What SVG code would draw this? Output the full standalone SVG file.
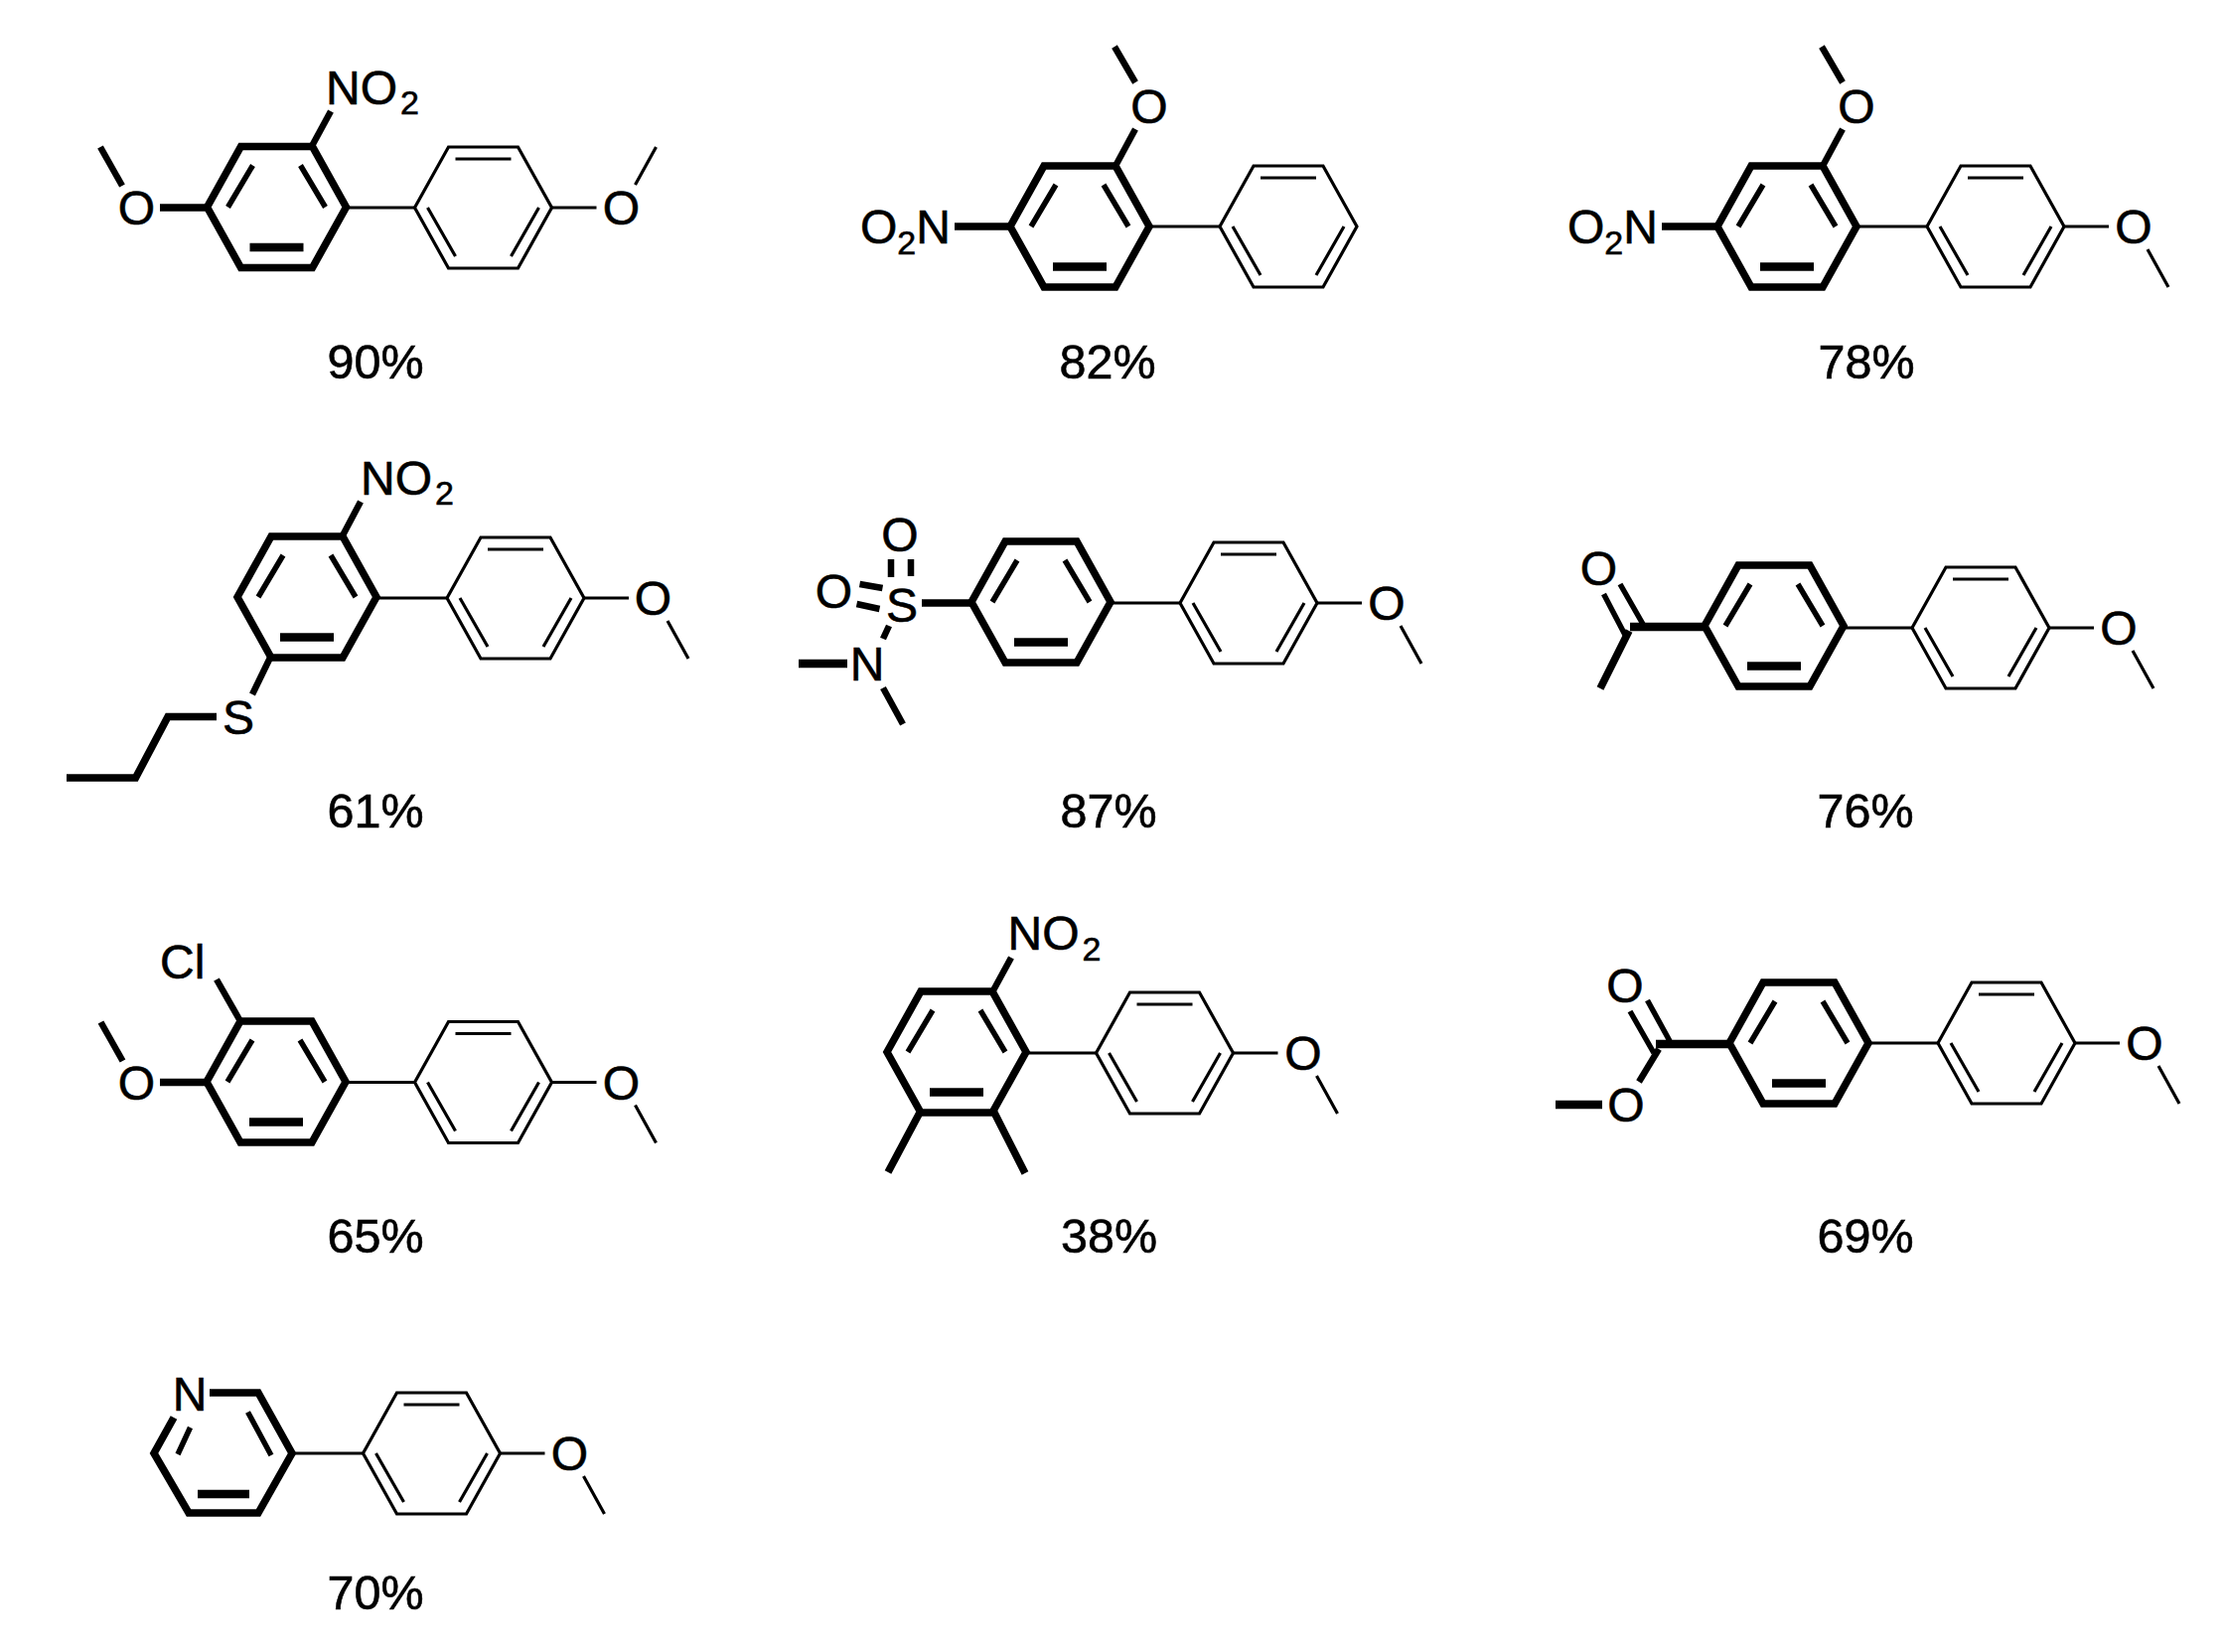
<svg xmlns="http://www.w3.org/2000/svg" xmlns:xlink="http://www.w3.org/1999/xlink" width="2242" height="1663" viewBox="0 0 2242 1663">
<style>
text{font-family:"Liberation Sans",Arial,sans-serif;font-size:48px;fill:#000;stroke:#000;stroke-width:.6}
.m{text-anchor:middle}
.p{font-size:48.5px}
.s{font-size:34px}
path,line{fill:none;stroke:#000;stroke-linejoin:miter;stroke-linecap:butt}
.b{stroke-width:7.5}
.c{stroke-width:6.5}
.i{stroke-width:5.5}
.ib{stroke-width:8.5}
.t{stroke-width:3.2}
</style>
<defs>
<g id="thick-ring">
<path class="b" d="M-70,0L-36,-61H36L70,0L36,61H-36Z"/>
<path class="i" d="M-49,0L-24,-42M24,-42L49,0"/>
<path class="ib" d="M-27,40.5H27"/>
</g>
<g id="thin-ring">
<path class="t" d="M-69,0L-35,-61H35L69,0L35,61H-35Z"/>
<path class="t" d="M-28,-49H28M-56,0L-28,49M56,0L28,49"/>
</g>
<path id="ome-down" class="t" d="M69,0H114M153,23L174,61"/>
<path id="ome-up" class="t" d="M69,0H114M153,-23L174,-61"/>
</defs>

<g id="connectors">
<line class="t" x1="348" y1="209" x2="418" y2="209"/>
<line class="t" x1="1157" y1="228" x2="1228" y2="228"/>
<line class="t" x1="1869" y1="228" x2="1940" y2="228"/>
<line class="t" x1="379" y1="602" x2="450" y2="602"/>
<line class="t" x1="1118" y1="607" x2="1188" y2="607"/>
<line class="t" x1="1855" y1="632" x2="1925" y2="632"/>
<line class="t" x1="348" y1="1089.5" x2="418" y2="1089.5"/>
<line class="t" x1="1033" y1="1060" x2="1104" y2="1060"/>
<line class="t" x1="1881" y1="1050" x2="1951" y2="1050"/>
<line class="t" x1="294" y1="1463" x2="366" y2="1463"/>
</g>

<g id="mol-1">
<use xlink:href="#thick-ring" href="#thick-ring" x="278.5" y="208.5"/>
<use xlink:href="#thin-ring" href="#thin-ring" x="486.5" y="209"/>
<use xlink:href="#ome-up" href="#ome-up" x="486.5" y="209"/>
<path class="b" d="M209,209H161"/>
<path class="c" d="M123,187L101,148"/>
<path class="c" d="M314,147L333,112"/>
<text x="328" y="105">NO<tspan class="s" dx="3" dy="10">2</tspan></text>
<text class="m" x="137.5" y="226">O</text>
<text class="m" x="625.5" y="226">O</text>
<text class="m p" x="378" y="381">90%</text>
</g>

<g id="mol-2">
<use xlink:href="#thick-ring" href="#thick-ring" x="1087" y="228"/>
<use xlink:href="#thin-ring" href="#thin-ring" x="1297" y="228"/>
<path class="b" d="M1017,228H961"/>
<path class="c" d="M1123,167L1143,130"/>
<path class="c" d="M1143,83L1122,47"/>
<text x="866" y="245">O<tspan class="s" dy="11">2</tspan><tspan dy="-11">N</tspan></text>
<text class="m" x="1157" y="124">O</text>
<text class="m p" x="1115" y="381">82%</text>
</g>

<g id="mol-3">
<use xlink:href="#thick-ring" href="#thick-ring" x="1799" y="228"/>
<use xlink:href="#thin-ring" href="#thin-ring" x="2009" y="228"/>
<use xlink:href="#ome-down" href="#ome-down" x="2009" y="228"/>
<path class="b" d="M1729,228H1673"/>
<path class="c" d="M1835,167L1855,130"/>
<path class="c" d="M1855,83L1834,47"/>
<text x="1578" y="245">O<tspan class="s" dy="11">2</tspan><tspan dy="-11">N</tspan></text>
<text class="m" x="1869" y="124">O</text>
<text class="m" x="2148" y="245">O</text>
<text class="m p" x="1879" y="381">78%</text>
</g>

<g id="mol-4">
<use xlink:href="#thick-ring" href="#thick-ring" x="309" y="601"/>
<use xlink:href="#thin-ring" href="#thin-ring" x="519" y="602"/>
<use xlink:href="#ome-down" href="#ome-down" x="519" y="602"/>
<path class="c" d="M345,539L363,505"/>
<path class="c" d="M272,662L254,699"/>
<path class="b" d="M218,721.5H169L136.5,783H67"/>
<text x="363" y="498">NO<tspan class="s" dx="3" dy="10">2</tspan></text>
<text class="m" x="240" y="738.5">S</text>
<text class="m" x="657.5" y="619">O</text>
<text class="m p" x="378" y="833">61%</text>
</g>

<g id="mol-5">
<use xlink:href="#thick-ring" href="#thick-ring" x="1048" y="606"/>
<use xlink:href="#thin-ring" href="#thin-ring" x="1257" y="607"/>
<use xlink:href="#ome-down" href="#ome-down" x="1257" y="607"/>
<path class="b" d="M978,607H928"/>
<path class="c" d="M897,563V581M917,563V580M865.5,588L888.5,592M862.5,608L885.5,613"/>
<path class="c" d="M895,630L889,643"/>
<path class="ib" d="M853,668H804"/>
<path class="c" d="M889,692.5L909,729"/>
<text class="m" x="908" y="625.5">S</text>
<text class="m" x="906" y="554.5">O</text>
<text class="m" x="839.5" y="612">O</text>
<text class="m" x="873" y="685">N</text>
<text class="m" x="1396" y="624">O</text>
<text class="m p" x="1116" y="833">87%</text>
</g>

<g id="mol-6">
<use xlink:href="#thick-ring" href="#thick-ring" x="1786" y="630"/>
<use xlink:href="#thin-ring" href="#thin-ring" x="1994" y="632"/>
<use xlink:href="#ome-down" href="#ome-down" x="1994" y="632"/>
<path class="ib" d="M1718,631H1641"/>
<path class="b" d="M1640,635L1611,693"/>
<path class="i" d="M1637,641L1614.5,598M1655,630L1631,588"/>
<text class="m" x="1609.5" y="589">O</text>
<text class="m" x="2133" y="649">O</text>
<text class="m p" x="1878" y="833">76%</text>
</g>

<g id="mol-7">
<use xlink:href="#thick-ring" href="#thick-ring" x="278" y="1089"/>
<use xlink:href="#thin-ring" href="#thin-ring" x="486.5" y="1089.5"/>
<use xlink:href="#ome-down" href="#ome-down" x="486.5" y="1089.5"/>
<path class="b" d="M208,1089.5H161"/>
<path class="c" d="M123.5,1068L101.5,1029"/>
<path class="c" d="M242,1028L218,986"/>
<text x="161" y="985">Cl</text>
<text class="m" x="137.5" y="1106.5">O</text>
<text class="m" x="625.5" y="1106.5">O</text>
<text class="m p" x="378" y="1261">65%</text>
</g>

<g id="mol-8">
<use xlink:href="#thick-ring" href="#thick-ring" x="963" y="1059"/>
<use xlink:href="#thin-ring" href="#thin-ring" x="1172.5" y="1060"/>
<use xlink:href="#ome-down" href="#ome-down" x="1172.5" y="1060"/>
<path class="c" d="M1000,997L1018,964"/>
<path class="b" d="M927,1118L894,1180M1000,1118L1032,1181"/>
<text x="1014.5" y="956">NO<tspan class="s" dx="3" dy="11">2</tspan></text>
<text class="m" x="1312" y="1077">O</text>
<text class="m p" x="1116.5" y="1261">38%</text>
</g>

<g id="mol-9">
<use xlink:href="#thick-ring" href="#thick-ring" x="1811" y="1050"/>
<use xlink:href="#thin-ring" href="#thin-ring" x="2020" y="1050"/>
<use xlink:href="#ome-down" href="#ome-down" x="2020" y="1050"/>
<path class="ib" d="M1742,1051H1667"/>
<path class="i" d="M1641,1018L1665,1060M1658.5,1007L1681,1048"/>
<path class="c" d="M1670,1056L1650,1089"/>
<path class="ib" d="M1613,1112H1566"/>
<text class="m" x="1636" y="1008.5">O</text>
<text class="m" x="1637" y="1129">O</text>
<text class="m" x="2159" y="1067">O</text>
<text class="m p" x="1878" y="1261">69%</text>
</g>

<g id="mol-10">
<path class="b" d="M211,1402H260L294,1463L260,1523H190L155,1463L175,1427"/>
<path class="i" d="M249.5,1421.5L273,1465M191.5,1437L179,1464"/>
<path class="ib" d="M199,1504H251"/>
<use xlink:href="#thin-ring" href="#thin-ring" x="434.5" y="1463"/>
<use xlink:href="#ome-down" href="#ome-down" x="434.5" y="1463"/>
<text class="m" x="191" y="1420">N</text>
<text class="m" x="573.5" y="1480">O</text>
<text class="m p" x="378" y="1620">70%</text>
</g>
</svg>
